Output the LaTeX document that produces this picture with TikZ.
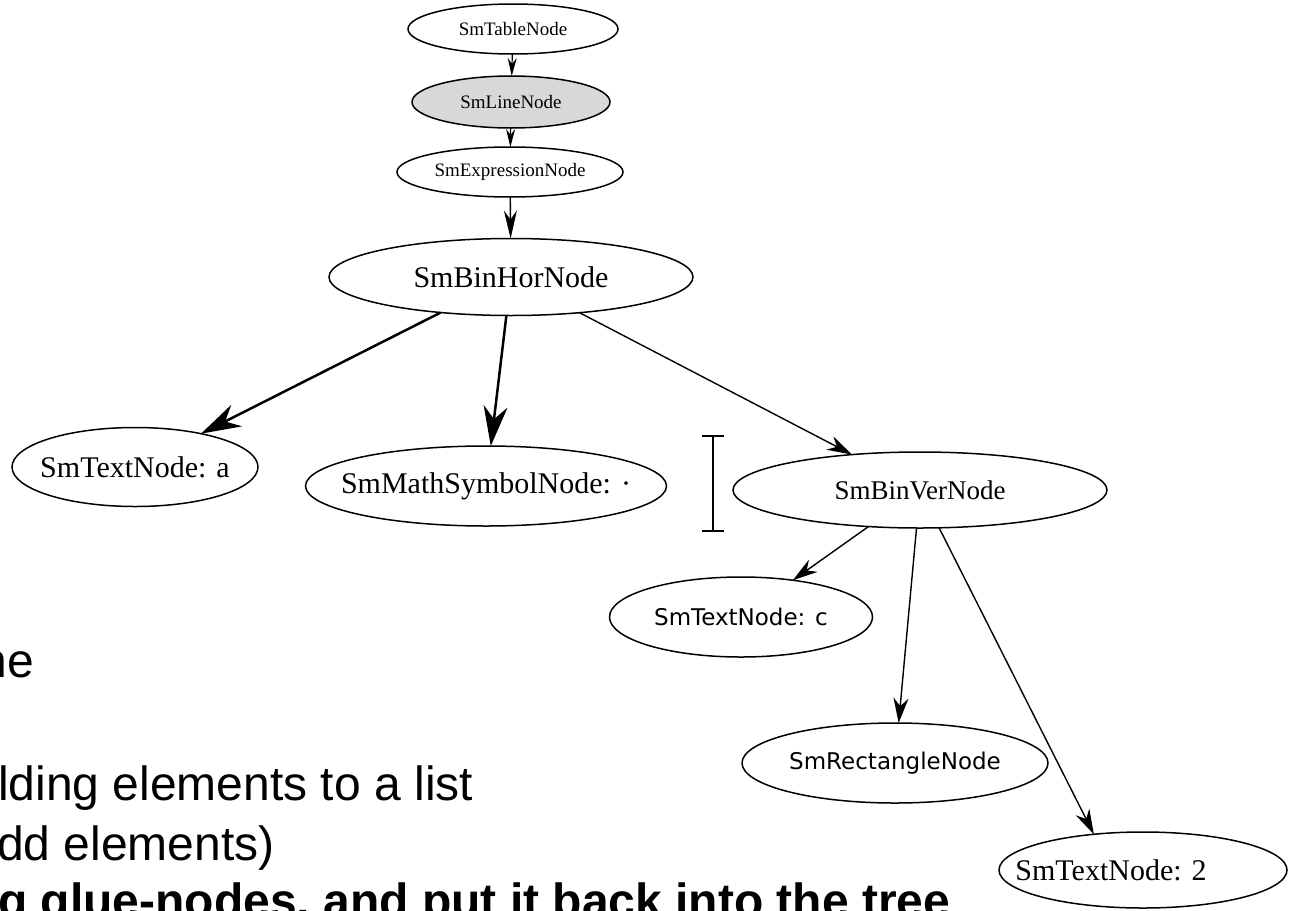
\documentclass[tikz,border=0pt]{standalone}
\usepackage{fontspec}
\setmainfont{Liberation Serif}
\newfontfamily\dejavu{DejaVu Sans}
\newfontfamily\arial{Liberation Sans}
\usetikzlibrary{arrows.meta,shapes.geometric}
\definecolor{fillgray}{RGB}{216,216,216}

\begin{document}
\begin{tikzpicture}[x=1pt,y=-1pt,
  tree/.style={ellipse, draw, line width=1.5pt, inner sep=0pt, outer sep=0pt},
  small/.style={font=\fontsize{19}{22}\selectfont},
  big/.style={font=\fontsize{30}{36}\selectfont},
  mid/.style={font=\fontsize{27}{32}\selectfont},
  sans/.style={font=\dejavu\fontsize{23}{27}\selectfont},
  slide/.style={inner sep=0pt, font=\arial\fontsize{48}{56}\selectfont},
  ethin/.style={-{Stealth[length=18pt,width=9pt,inset=6pt]}, line width=1.2pt},
  emid/.style={-{Stealth[length=28pt,width=13pt,inset=9pt]}, line width=1.4pt},
  ethick/.style={-{Stealth[length=40pt,width=24pt,inset=13pt]}, line width=2.5pt},
  enorm/.style={-{Stealth[length=25pt,width=15pt,inset=8pt]}, line width=1.4pt},
]
\useasboundingbox (0,0) rectangle (1289,910);
\clip (0,0) rectangle (1289,910);

% syntax tree nodes
\node[tree, minimum width=210, minimum height=50, label={[small]center:SmTableNode}] (table) at (513,29) {};
\node[tree, fill=fillgray, minimum width=198, minimum height=52, label={[small]center:SmLineNode}] (line) at (511,102) {};
\node[tree, minimum width=226, minimum height=50, label={[small]center:SmExpressionNode}] (expr) at (510,172) {};
\node[tree, minimum width=364, minimum height=77, label={[big]center:SmBinHorNode}] (binhor) at (511,277) {};
\node[tree, minimum width=246, minimum height=79, label={[big]center:SmTextNode: a}] (ta) at (135,467) {};
\node[tree, minimum width=361, minimum height=80, label={[big]center:SmMathSymbolNode: ·}] (ms) at (486,486) {};
\node[tree, minimum width=374, minimum height=76, label={[mid]center:SmBinVerNode}] (binver) at (920,490) {};
\node[tree, minimum width=263, minimum height=80, label={[sans]center:SmTextNode: c}] (tc) at (741,617) {};
\node[tree, minimum width=306, minimum height=80, label={[sans]center:SmRectangleNode}] (rect) at (895,763) {};
\node[tree, minimum width=288, minimum height=76, label={[big, xshift=-32pt]center:SmTextNode: 2}] (t2) at (1143,870) {};

% edges
\draw[ethin] (table) -- (line);
\draw[ethin] (line) -- (expr);
\draw[emid] (expr) -- (binhor);
\draw[ethick] (binhor) -- (ta);
\draw[ethick] (binhor) -- (ms);
\draw[enorm] (binhor) -- (binver);
\draw[enorm] (binver) -- (tc);
\draw[enorm] (binver) -- (rect);
\draw[enorm] (binver) -- (t2.144);

% height marker beside SmBinVerNode
\coordinate (itop) at (713,436);
\coordinate (ibot) at (713,531);
\draw[line width=2pt] (itop) -- (ibot);
\draw[line width=2pt] ([xshift=-11pt]itop) -- ([xshift=11pt]itop);
\draw[line width=2pt] ([xshift=-11pt]ibot) -- ([xshift=11pt]ibot);

% slide text
\node[slide, anchor=base east] (s1) at (34,677) {ne};
\node[slide, anchor=base west] (s2) at (-2,800) {lding elements to a list};
\node[slide, anchor=base west] (s3) at (-3,860) {dd elements)};
\node[slide, anchor=base west, font=\arial\bfseries\fontsize{48}{56}\selectfont] (s4) at (-2,917) {g glue-nodes, and put it back into the tree};
\end{tikzpicture}
\end{document}
